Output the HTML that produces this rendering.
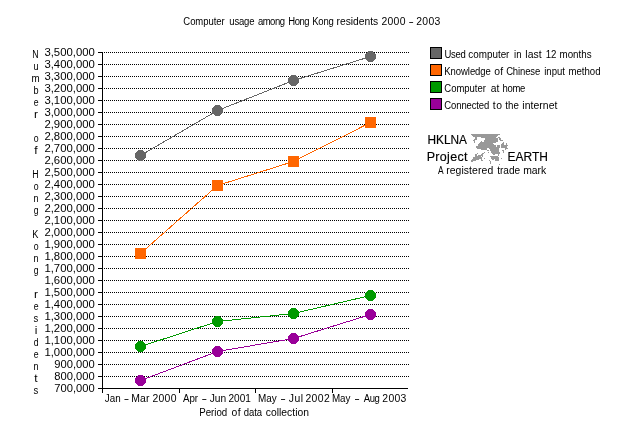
<!DOCTYPE html>
<html lang="en"><head><meta charset="utf-8">
<title>Computer usage among Hong Kong residents 2000 - 2003</title>
<style>
html,body{margin:0;padding:0;background:#fff;}
body{width:628px;height:440px;overflow:hidden;}
svg{display:block;}
text{font-family:"Liberation Sans", sans-serif;font-size:10px;fill:#000;}
.big{font-size:12px;stroke:#000;stroke-width:0.15px;}
.crisp{shape-rendering:crispEdges;}
</style></head><body>
<svg width="628" height="440" viewBox="0 0 628 440">
<rect width="628" height="440" fill="#fff"/>
<g class="crisp" stroke="#000" stroke-width="1" fill="none">
<line x1="104" y1="52.5" x2="409" y2="52.5" stroke-dasharray="1 1"/>
<line x1="104" y1="64.5" x2="409" y2="64.5" stroke-dasharray="1 1"/>
<line x1="104" y1="76.5" x2="409" y2="76.5" stroke-dasharray="1 1"/>
<line x1="104" y1="88.5" x2="409" y2="88.5" stroke-dasharray="1 1"/>
<line x1="104" y1="100.5" x2="409" y2="100.5" stroke-dasharray="1 1"/>
<line x1="104" y1="112.5" x2="409" y2="112.5" stroke-dasharray="1 1"/>
<line x1="104" y1="124.5" x2="409" y2="124.5" stroke-dasharray="1 1"/>
<line x1="104" y1="136.5" x2="409" y2="136.5" stroke-dasharray="1 1"/>
<line x1="104" y1="148.5" x2="409" y2="148.5" stroke-dasharray="1 1"/>
<line x1="104" y1="160.5" x2="409" y2="160.5" stroke-dasharray="1 1"/>
<line x1="104" y1="172.5" x2="409" y2="172.5" stroke-dasharray="1 1"/>
<line x1="104" y1="184.5" x2="409" y2="184.5" stroke-dasharray="1 1"/>
<line x1="104" y1="196.5" x2="409" y2="196.5" stroke-dasharray="1 1"/>
<line x1="104" y1="208.5" x2="409" y2="208.5" stroke-dasharray="1 1"/>
<line x1="104" y1="220.5" x2="409" y2="220.5" stroke-dasharray="1 1"/>
<line x1="104" y1="232.5" x2="409" y2="232.5" stroke-dasharray="1 1"/>
<line x1="104" y1="244.5" x2="409" y2="244.5" stroke-dasharray="1 1"/>
<line x1="104" y1="256.5" x2="409" y2="256.5" stroke-dasharray="1 1"/>
<line x1="104" y1="268.5" x2="409" y2="268.5" stroke-dasharray="1 1"/>
<line x1="104" y1="280.5" x2="409" y2="280.5" stroke-dasharray="1 1"/>
<line x1="104" y1="292.5" x2="409" y2="292.5" stroke-dasharray="1 1"/>
<line x1="104" y1="304.5" x2="409" y2="304.5" stroke-dasharray="1 1"/>
<line x1="104" y1="316.5" x2="409" y2="316.5" stroke-dasharray="1 1"/>
<line x1="104" y1="328.5" x2="409" y2="328.5" stroke-dasharray="1 1"/>
<line x1="104" y1="340.5" x2="409" y2="340.5" stroke-dasharray="1 1"/>
<line x1="104" y1="352.5" x2="409" y2="352.5" stroke-dasharray="1 1"/>
<line x1="104" y1="364.5" x2="409" y2="364.5" stroke-dasharray="1 1"/>
<line x1="104" y1="376.5" x2="409" y2="376.5" stroke-dasharray="1 1"/>
<line x1="102.5" y1="52" x2="102.5" y2="393"/>
<line x1="98" y1="388.5" x2="408" y2="388.5"/>
<line x1="98" y1="52.5" x2="102" y2="52.5"/>
<line x1="98" y1="64.5" x2="102" y2="64.5"/>
<line x1="98" y1="76.5" x2="102" y2="76.5"/>
<line x1="98" y1="88.5" x2="102" y2="88.5"/>
<line x1="98" y1="100.5" x2="102" y2="100.5"/>
<line x1="98" y1="112.5" x2="102" y2="112.5"/>
<line x1="98" y1="124.5" x2="102" y2="124.5"/>
<line x1="98" y1="136.5" x2="102" y2="136.5"/>
<line x1="98" y1="148.5" x2="102" y2="148.5"/>
<line x1="98" y1="160.5" x2="102" y2="160.5"/>
<line x1="98" y1="172.5" x2="102" y2="172.5"/>
<line x1="98" y1="184.5" x2="102" y2="184.5"/>
<line x1="98" y1="196.5" x2="102" y2="196.5"/>
<line x1="98" y1="208.5" x2="102" y2="208.5"/>
<line x1="98" y1="220.5" x2="102" y2="220.5"/>
<line x1="98" y1="232.5" x2="102" y2="232.5"/>
<line x1="98" y1="244.5" x2="102" y2="244.5"/>
<line x1="98" y1="256.5" x2="102" y2="256.5"/>
<line x1="98" y1="268.5" x2="102" y2="268.5"/>
<line x1="98" y1="280.5" x2="102" y2="280.5"/>
<line x1="98" y1="292.5" x2="102" y2="292.5"/>
<line x1="98" y1="304.5" x2="102" y2="304.5"/>
<line x1="98" y1="316.5" x2="102" y2="316.5"/>
<line x1="98" y1="328.5" x2="102" y2="328.5"/>
<line x1="98" y1="340.5" x2="102" y2="340.5"/>
<line x1="98" y1="352.5" x2="102" y2="352.5"/>
<line x1="98" y1="364.5" x2="102" y2="364.5"/>
<line x1="98" y1="376.5" x2="102" y2="376.5"/>
<line x1="179.5" y1="389" x2="179.5" y2="393"/>
<line x1="255.5" y1="389" x2="255.5" y2="393"/>
<line x1="332.5" y1="389" x2="332.5" y2="393"/>
</g>
<g class="crisp" fill="#666666" stroke="none">
<polyline fill="none" stroke="#666666" stroke-width="1" points="140.5,155.5 217.5,110.5 293.5,80.5 370.5,56.5"/>
<path d="M138 150h5v11h-5zM137 151h7v9h-7zM136 152h9v7h-9zM135 153h11v5h-11z"/>
<path d="M215 105h5v11h-5zM214 106h7v9h-7zM213 107h9v7h-9zM212 108h11v5h-11z"/>
<path d="M291 75h5v11h-5zM290 76h7v9h-7zM289 77h9v7h-9zM288 78h11v5h-11z"/>
<path d="M368 51h5v11h-5zM367 52h7v9h-7zM366 53h9v7h-9zM365 54h11v5h-11z"/>
</g>
<g class="crisp" fill="#ff6600" stroke="none">
<polyline fill="none" stroke="#ff6600" stroke-width="1" points="140.5,253.5 217.5,185.5 293.5,161.5 370.5,122.5"/>
<rect x="135" y="248" width="11" height="11"/>
<rect x="212" y="180" width="11" height="11"/>
<rect x="288" y="156" width="11" height="11"/>
<rect x="365" y="117" width="11" height="11"/>
</g>
<g class="crisp" fill="#009900" stroke="none">
<polyline fill="none" stroke="#009900" stroke-width="1" points="140.5,346.5 217.5,321.5 293.5,313.5 370.5,295.5"/>
<path d="M138 341h5v11h-5zM137 342h7v9h-7zM136 343h9v7h-9zM135 344h11v5h-11z"/>
<path d="M215 316h5v11h-5zM214 317h7v9h-7zM213 318h9v7h-9zM212 319h11v5h-11z"/>
<path d="M291 308h5v11h-5zM290 309h7v9h-7zM289 310h9v7h-9zM288 311h11v5h-11z"/>
<path d="M368 290h5v11h-5zM367 291h7v9h-7zM366 292h9v7h-9zM365 293h11v5h-11z"/>
</g>
<g class="crisp" fill="#990099" stroke="none">
<polyline fill="none" stroke="#990099" stroke-width="1" points="140.5,380.5 217.5,351.5 293.5,338.5 370.5,314.5"/>
<path d="M138 375h5v11h-5zM137 376h7v9h-7zM136 377h9v7h-9zM135 378h11v5h-11z"/>
<path d="M215 346h5v11h-5zM214 347h7v9h-7zM213 348h9v7h-9zM212 349h11v5h-11z"/>
<path d="M291 333h5v11h-5zM290 334h7v9h-7zM289 335h9v7h-9zM288 336h11v5h-11z"/>
<path d="M368 309h5v11h-5zM367 310h7v9h-7zM366 311h9v7h-9zM365 312h11v5h-11z"/>
</g>
<text y="25"><tspan x="183.34" letter-spacing="-0.051" textLength="41.32" lengthAdjust="spacingAndGlyphs">Computer</tspan> <tspan x="229.33" letter-spacing="-0.194" textLength="24.96" lengthAdjust="spacingAndGlyphs">usage</tspan> <tspan x="257.94" letter-spacing="-0.536" textLength="26.50" lengthAdjust="spacingAndGlyphs">among</tspan> <tspan x="288.24" letter-spacing="-0.489" textLength="20.85" lengthAdjust="spacingAndGlyphs">Hong</tspan> <tspan x="312.24" letter-spacing="-0.228" textLength="21.33" lengthAdjust="spacingAndGlyphs">Kong</tspan> <tspan x="336.56" textLength="41.72" lengthAdjust="spacingAndGlyphs">residents</tspan> <tspan x="381.44" letter-spacing="0.282" textLength="24.31" lengthAdjust="spacingAndGlyphs">2000</tspan> <tspan x="408.60" textLength="5.33" lengthAdjust="spacingAndGlyphs">-</tspan> <tspan x="416.24" letter-spacing="0.329" textLength="24.51" lengthAdjust="spacingAndGlyphs">2003</tspan></text>
<text x="44.42" y="56" textLength="50.39" lengthAdjust="spacingAndGlyphs">3,500,000</text>
<text x="44.42" y="68" textLength="50.39" lengthAdjust="spacingAndGlyphs">3,400,000</text>
<text x="44.42" y="80" textLength="50.39" lengthAdjust="spacingAndGlyphs">3,300,000</text>
<text x="44.42" y="92" textLength="50.39" lengthAdjust="spacingAndGlyphs">3,200,000</text>
<text x="44.42" y="104" textLength="50.39" lengthAdjust="spacingAndGlyphs">3,100,000</text>
<text x="44.42" y="116" textLength="50.39" lengthAdjust="spacingAndGlyphs">3,000,000</text>
<text x="44.42" y="128" textLength="50.39" lengthAdjust="spacingAndGlyphs">2,900,000</text>
<text x="44.42" y="140" textLength="50.39" lengthAdjust="spacingAndGlyphs">2,800,000</text>
<text x="44.42" y="152" textLength="50.39" lengthAdjust="spacingAndGlyphs">2,700,000</text>
<text x="44.42" y="164" textLength="50.39" lengthAdjust="spacingAndGlyphs">2,600,000</text>
<text x="44.42" y="176" textLength="50.39" lengthAdjust="spacingAndGlyphs">2,500,000</text>
<text x="44.42" y="188" textLength="50.39" lengthAdjust="spacingAndGlyphs">2,400,000</text>
<text x="44.42" y="200" textLength="50.39" lengthAdjust="spacingAndGlyphs">2,300,000</text>
<text x="44.42" y="212" textLength="50.39" lengthAdjust="spacingAndGlyphs">2,200,000</text>
<text x="44.42" y="224" textLength="50.39" lengthAdjust="spacingAndGlyphs">2,100,000</text>
<text x="44.42" y="236" textLength="50.39" lengthAdjust="spacingAndGlyphs">2,000,000</text>
<text x="44.42" y="248" textLength="50.39" lengthAdjust="spacingAndGlyphs">1,900,000</text>
<text x="44.42" y="260" textLength="50.39" lengthAdjust="spacingAndGlyphs">1,800,000</text>
<text x="44.42" y="272" textLength="50.39" lengthAdjust="spacingAndGlyphs">1,700,000</text>
<text x="44.42" y="284" textLength="50.39" lengthAdjust="spacingAndGlyphs">1,600,000</text>
<text x="44.42" y="296" textLength="50.39" lengthAdjust="spacingAndGlyphs">1,500,000</text>
<text x="44.42" y="308" textLength="50.39" lengthAdjust="spacingAndGlyphs">1,400,000</text>
<text x="44.42" y="320" textLength="50.39" lengthAdjust="spacingAndGlyphs">1,300,000</text>
<text x="44.42" y="332" textLength="50.39" lengthAdjust="spacingAndGlyphs">1,200,000</text>
<text x="44.42" y="344" textLength="50.39" lengthAdjust="spacingAndGlyphs">1,100,000</text>
<text x="44.42" y="356" textLength="50.39" lengthAdjust="spacingAndGlyphs">1,000,000</text>
<text x="54.32" y="368" textLength="40.37" lengthAdjust="spacingAndGlyphs">900,000</text>
<text x="54.32" y="380" textLength="40.37" lengthAdjust="spacingAndGlyphs">800,000</text>
<text x="54.32" y="392" textLength="40.37" lengthAdjust="spacingAndGlyphs">700,000</text>
<text x="32.30" y="58" textLength="6.38" lengthAdjust="spacingAndGlyphs">N</text>
<text x="33.46" y="70" textLength="5.06" lengthAdjust="spacingAndGlyphs">u</text>
<text x="31.39" y="82" textLength="8.18" lengthAdjust="spacingAndGlyphs">m</text>
<text x="33.45" y="94" textLength="5.07" lengthAdjust="spacingAndGlyphs">b</text>
<text x="33.65" y="106" textLength="4.84" lengthAdjust="spacingAndGlyphs">e</text>
<text x="33.91" y="118" textLength="4.01" lengthAdjust="spacingAndGlyphs">r</text>
<text x="33.65" y="142" textLength="4.86" lengthAdjust="spacingAndGlyphs">o</text>
<text x="34.22" y="154" textLength="3.34" lengthAdjust="spacingAndGlyphs">f</text>
<text x="32.30" y="178" textLength="6.38" lengthAdjust="spacingAndGlyphs">H</text>
<text x="33.65" y="190" textLength="4.86" lengthAdjust="spacingAndGlyphs">o</text>
<text x="33.43" y="202" textLength="5.09" lengthAdjust="spacingAndGlyphs">n</text>
<text x="33.66" y="214" textLength="4.82" lengthAdjust="spacingAndGlyphs">g</text>
<text x="32.27" y="238" textLength="6.15" lengthAdjust="spacingAndGlyphs">K</text>
<text x="33.65" y="250" textLength="4.86" lengthAdjust="spacingAndGlyphs">o</text>
<text x="33.43" y="262" textLength="5.09" lengthAdjust="spacingAndGlyphs">n</text>
<text x="33.66" y="274" textLength="4.82" lengthAdjust="spacingAndGlyphs">g</text>
<text x="33.91" y="298" textLength="4.01" lengthAdjust="spacingAndGlyphs">r</text>
<text x="33.65" y="310" textLength="4.84" lengthAdjust="spacingAndGlyphs">e</text>
<text x="33.57" y="322" textLength="4.75" lengthAdjust="spacingAndGlyphs">s</text>
<text x="34.67" y="334" textLength="2.64" lengthAdjust="spacingAndGlyphs">i</text>
<text x="33.66" y="346" textLength="4.82" lengthAdjust="spacingAndGlyphs">d</text>
<text x="33.65" y="358" textLength="4.84" lengthAdjust="spacingAndGlyphs">e</text>
<text x="33.43" y="370" textLength="5.09" lengthAdjust="spacingAndGlyphs">n</text>
<text x="34.31" y="382" textLength="3.34" lengthAdjust="spacingAndGlyphs">t</text>
<text x="33.57" y="394" textLength="4.75" lengthAdjust="spacingAndGlyphs">s</text>
<text y="402"><tspan x="104.81" textLength="15.83" lengthAdjust="spacingAndGlyphs">Jan</tspan> <tspan x="123.69" textLength="5.46" lengthAdjust="spacingAndGlyphs">-</tspan> <tspan x="131.17" letter-spacing="0.186" textLength="18.50" lengthAdjust="spacingAndGlyphs">Mar</tspan> <tspan x="152.44" letter-spacing="0.282" textLength="24.31" lengthAdjust="spacingAndGlyphs">2000</tspan></text>
<text y="402"><tspan x="182.93" textLength="15.16" lengthAdjust="spacingAndGlyphs">Apr</tspan> <tspan x="201.47" textLength="5.60" lengthAdjust="spacingAndGlyphs">-</tspan> <tspan x="209.70" textLength="16.47" lengthAdjust="spacingAndGlyphs">Jun</tspan> <tspan x="228.46" textLength="22.38" lengthAdjust="spacingAndGlyphs">2001</tspan></text>
<text y="402"><tspan x="257.91" textLength="18.77" lengthAdjust="spacingAndGlyphs">May</tspan> <tspan x="280.37" textLength="5.60" lengthAdjust="spacingAndGlyphs">-</tspan> <tspan x="288.89" letter-spacing="0.424" textLength="14.63" lengthAdjust="spacingAndGlyphs">Jul</tspan> <tspan x="305.44" letter-spacing="0.365" textLength="24.66" lengthAdjust="spacingAndGlyphs">2002</tspan></text>
<text y="402"><tspan x="331.92" textLength="18.56" lengthAdjust="spacingAndGlyphs">May</tspan> <tspan x="354.37" textLength="5.60" lengthAdjust="spacingAndGlyphs">-</tspan> <tspan x="363.73" letter-spacing="-0.411" textLength="15.74" lengthAdjust="spacingAndGlyphs">Aug</tspan> <tspan x="382.34" letter-spacing="0.265" textLength="24.24" lengthAdjust="spacingAndGlyphs">2003</tspan></text>
<text y="416"><tspan x="199.23" textLength="28.05" lengthAdjust="spacingAndGlyphs">Period</tspan> <tspan x="231.58" letter-spacing="0.310" textLength="9.32" lengthAdjust="spacingAndGlyphs">of</tspan> <tspan x="243.73" letter-spacing="-0.053" textLength="18.29" lengthAdjust="spacingAndGlyphs">data</tspan> <tspan x="265.89" textLength="43.05" lengthAdjust="spacingAndGlyphs">collection</tspan></text>
<rect class="crisp" x="430.5" y="47.5" width="11" height="11" fill="#666666" stroke="#000" stroke-width="1"/>
<text y="58"><tspan x="444.41" letter-spacing="-0.287" textLength="21.10" lengthAdjust="spacingAndGlyphs">Used</tspan> <tspan x="468.31" textLength="41.11" lengthAdjust="spacingAndGlyphs">computer</tspan> <tspan x="514.11" textLength="7.48" lengthAdjust="spacingAndGlyphs">in</tspan> <tspan x="525.26" letter-spacing="0.073" textLength="16.49" lengthAdjust="spacingAndGlyphs">last</tspan> <tspan x="545.63" textLength="10.78" lengthAdjust="spacingAndGlyphs">12</tspan> <tspan x="559.49" textLength="32.12" lengthAdjust="spacingAndGlyphs">months</tspan></text>
<rect class="crisp" x="430.5" y="64.5" width="11" height="11" fill="#ff6600" stroke="#000" stroke-width="1"/>
<text y="75"><tspan x="444.34" letter-spacing="-0.065" textLength="46.46" lengthAdjust="spacingAndGlyphs">Knowledge</tspan> <tspan x="494.38" letter-spacing="0.214" textLength="9.12" lengthAdjust="spacingAndGlyphs">of</tspan> <tspan x="506.14" letter-spacing="-0.124" textLength="34.04" lengthAdjust="spacingAndGlyphs">Chinese</tspan> <tspan x="544.21" textLength="20.77" lengthAdjust="spacingAndGlyphs">input</tspan> <tspan x="568.40" textLength="32.20" lengthAdjust="spacingAndGlyphs">method</tspan></text>
<rect class="crisp" x="430.5" y="81.5" width="11" height="11" fill="#009900" stroke="#000" stroke-width="1"/>
<text y="92"><tspan x="444.34" letter-spacing="-0.021" textLength="41.55" lengthAdjust="spacingAndGlyphs">Computer</tspan> <tspan x="490.71" textLength="8.56" lengthAdjust="spacingAndGlyphs">at</tspan> <tspan x="502.50" letter-spacing="-0.327" textLength="22.52" lengthAdjust="spacingAndGlyphs">home</tspan></text>
<rect class="crisp" x="430.5" y="98.5" width="11" height="11" fill="#990099" stroke="#000" stroke-width="1"/>
<text y="109"><tspan x="444.34" letter-spacing="-0.131" textLength="44.84" lengthAdjust="spacingAndGlyphs">Connected</tspan> <tspan x="492.89" letter-spacing="0.429" textLength="9.57" lengthAdjust="spacingAndGlyphs">to</tspan> <tspan x="505.30" textLength="13.50" lengthAdjust="spacingAndGlyphs">the</tspan> <tspan x="522.36" letter-spacing="0.046" textLength="35.08" lengthAdjust="spacingAndGlyphs">internet</tspan></text>
<text class="big" x="427.51" y="143.5" textLength="39.49" lengthAdjust="spacingAndGlyphs">HKLNA</text>
<text class="big" x="426.66" y="160.7" letter-spacing="0.308" textLength="41.10" lengthAdjust="spacingAndGlyphs">Project</text>
<text class="big" x="507.50" y="160.7" textLength="40.34" lengthAdjust="spacingAndGlyphs">EARTH</text>
<text y="174"><tspan x="437.94" textLength="5.14" lengthAdjust="spacingAndGlyphs">A</tspan> <tspan x="446.15" letter-spacing="0.084" textLength="47.12" lengthAdjust="spacingAndGlyphs">registered</tspan> <tspan x="497.19" textLength="23.02" lengthAdjust="spacingAndGlyphs">trade</tspan> <tspan x="523.15" textLength="23.11" lengthAdjust="spacingAndGlyphs">mark</tspan></text>
<path class="crisp" fill="#999999" d="M471 134h29v1h-29zM472 135h26v1h-26zM473 136h24v1h-24zM475 137h2v1h-2zM481 137h15v1h-15zM498 137h2v1h-2zM475 138h2v1h-2zM485 138h13v1h-13zM499 138h2v1h-2zM474 139h3v1h-3zM485 139h13v1h-13zM499 139h2v1h-2zM473 140h2v1h-2zM484 140h14v1h-14zM500 140h3v1h-3zM474 141h1v1h-1zM481 141h1v1h-1zM484 141h14v1h-14zM474 142h1v1h-1zM480 142h16v1h-16zM503 142h1v1h-1zM479 143h14v1h-14zM502 143h2v1h-2zM506 143h1v1h-1zM478 144h16v1h-16zM501 144h3v1h-3zM506 144h1v1h-1zM478 145h18v1h-18zM497 145h3v1h-3zM501 145h7v1h-7zM476 146h20v1h-20zM497 146h3v1h-3zM501 146h6v1h-6zM476 147h24v1h-24zM501 147h6v1h-6zM477 148h10v1h-10zM489 148h10v1h-10zM505 148h3v1h-3zM481 149h6v1h-6zM490 149h9v1h-9zM505 149h1v1h-1zM487 150h2v1h-2zM490 150h9v1h-9zM502 150h2v1h-2zM491 151h8v1h-8zM503 151h1v1h-1zM484 152h1v1h-1zM488 152h1v1h-1zM491 152h9v1h-9zM503 152h1v1h-1zM477 153h1v1h-1zM482 153h2v1h-2zM492 153h8v1h-8zM475 154h2v1h-2zM481 154h2v1h-2zM493 154h2v1h-2zM498 154h1v1h-1zM475 155h2v1h-2zM478 155h5v1h-5zM498 155h1v1h-1zM475 156h6v1h-6zM482 156h1v1h-1zM490 156h8v1h-8zM473 157h9v1h-9zM491 157h8v1h-8zM473 158h9v1h-9zM484 158h1v1h-1zM491 158h8v1h-8zM501 158h1v1h-1zM472 159h7v1h-7zM481 159h1v1h-1zM492 159h2v1h-2zM495 159h4v1h-4zM471 160h5v1h-5zM481 160h2v1h-2zM489 160h1v1h-1zM495 160h4v1h-4zM471 161h2v1h-2zM490 161h1v1h-1zM490 162h1v1h-1zM490 163h1v1h-1zM499 164h1v1h-1z"/>
</svg>
</body></html>
